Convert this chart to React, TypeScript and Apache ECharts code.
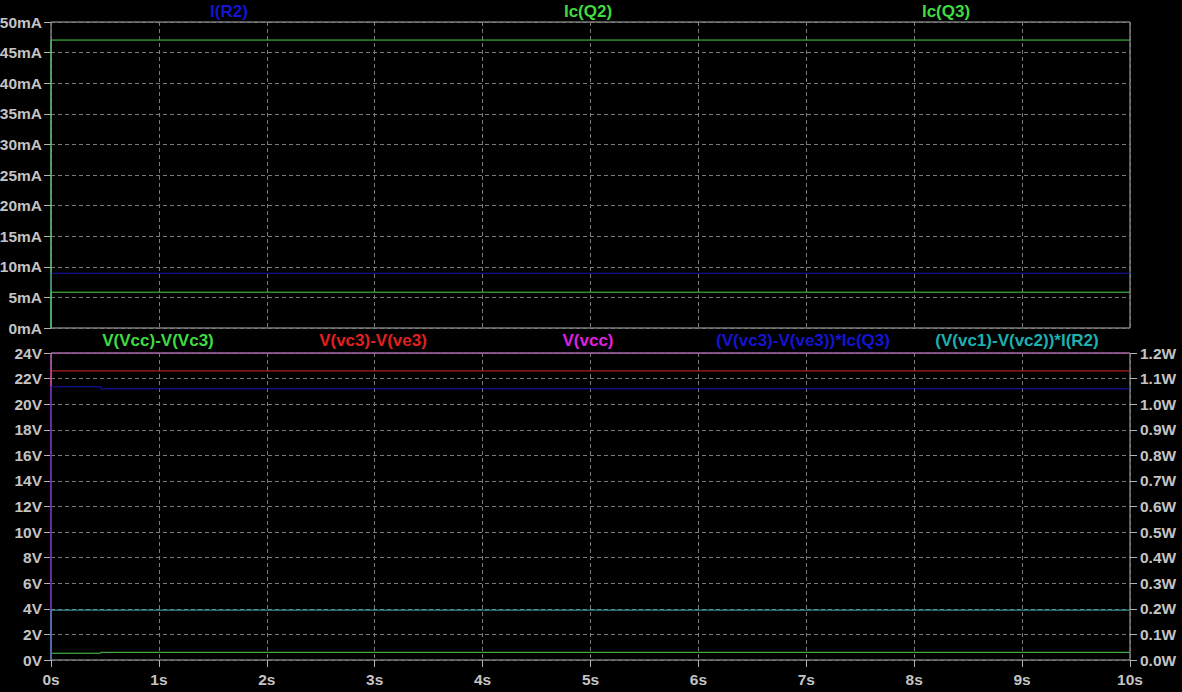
import React, { useEffect, useRef } from "react";
import * as echarts from "echarts";

// Time axis (s)
const timeTicks = [0, 1, 2, 3, 4, 5, 6, 7, 8, 9, 10];

// Top pane (mA)
const iR2: [number, number][] = [[0, 0], [0, 8.95], [10, 8.95]];
const icQ2: [number, number][] = [[0, 0], [0, 5.85], [10, 5.85]];
const icQ3: [number, number][] = [[0, 0], [0, 47.05], [10, 47.05]];

// Bottom pane, voltages (V)
const vVccMinusVc3: [number, number][] = [[0, 0], [0, 0.53], [0.46, 0.53], [0.46, 0.6], [10, 0.6]];
const vVc3MinusVe3: [number, number][] = [[0, 0], [0, 22.6], [10, 22.6]];
const vVcc: [number, number][] = [[0, 0], [0, 24], [10, 24]];

// Bottom pane, power (W)
const pQ3: [number, number][] = [[0, 0], [0, 1.068], [0.46, 1.068], [0.46, 1.06], [10, 1.06]];
const pR2: [number, number][] = [[0, 0], [0, 0.195], [10, 0.195]];

const topNames = ["I(R2)", "Ic(Q2)", "Ic(Q3)"];
const bottomNames = [
  "V(Vcc)-V(Vc3)",
  "V(vc3)-V(ve3)",
  "V(vcc)",
  "(V(vc3)-V(ve3))*Ic(Q3)",
  "(V(vc1)-V(vc2))*I(R2)",
];

const FONT = "Arial, 'Liberation Sans', sans-serif";
const LABEL = "#c4c4c4";
const GRIDC = "#7a7a7a";
const BOX = "#b4b4b4";

const C = {
  blueText: "#1414d2",
  blueLine: "#1818b8",
  green: "#3edc3e",
  greenLine: "#4cd04c",
  red: "#e02020",
  redLine: "#d42828",
  magenta: "#e020e0",
  magentaLine: "#c838c8",
  cyan: "#1eb0b0",
  cyanLine: "#3aacb4",
};

export default function App() {
  const ref = useRef<HTMLDivElement>(null);
  useEffect(() => {
    if (!ref.current) return;
    const chart = echarts.init(ref.current, undefined, { renderer: "svg" });
    const L = 51, R = 52;
    const topG = { left: L, right: R, top: 22, height: 306 };
    const botG = { left: L, right: R, top: 353, height: 307 };
    const split = { show: true, lineStyle: { color: GRIDC, type: [4, 3] as any, width: 1 } };
    const axisLabel = (fmt: (v: number) => string, margin: number) => ({
      color: LABEL,
      fontFamily: FONT,
      fontWeight: "bold" as const,
      fontSize: 15.5,
      margin,
      formatter: fmt,
    });
    const tick = { show: true, length: 7, inside: false, lineStyle: { color: BOX } };
    const line = (name: string, data: [number, number][], color: string, xi: number, yi: number) => ({
      type: "line" as const,
      name,
      data,
      xAxisIndex: xi,
      yAxisIndex: yi,
      showSymbol: false,
      symbol: "none",
      lineStyle: { color, width: 1 },
      itemStyle: { color },
    });
    const textEl = (text: string, x: number, y: number, color: string) => ({
      type: "text" as const,
      x,
      y,
      style: {
        text,
        fill: color,
        font: `bold 17px ${FONT}`,
        textAlign: "center",
        textVerticalAlign: "middle",
      },
    });
    const gridCommon = {
      show: true,
      borderColor: BOX,
      borderWidth: 1,
      backgroundColor: "transparent",
      containLabel: false,
      outerBoundsMode: "none",
    };
    chart.setOption({
      animation: false,
      backgroundColor: "#000000",
      grid: [
        { ...topG, ...gridCommon },
        { ...botG, ...gridCommon },
      ],
      xAxis: [
        {
          type: "value", gridIndex: 0, min: 0, max: 10, interval: 1,
          axisLine: { show: false }, axisTick: { show: false }, axisLabel: { show: false },
          splitLine: split,
        },
        {
          type: "value", gridIndex: 1, min: timeTicks[0], max: timeTicks[timeTicks.length - 1], interval: 1,
          axisLine: { show: false }, axisTick: tick,
          axisLabel: axisLabel((v: number) => `${v}s`, 11),
          splitLine: split,
        },
      ],
      yAxis: [
        {
          type: "value", gridIndex: 0, min: 0, max: 50, interval: 5,
          axisLine: { show: false }, axisTick: tick,
          axisLabel: axisLabel((v: number) => `${v}mA`, 9),
          splitLine: split,
        },
        {
          type: "value", gridIndex: 1, min: 0, max: 24, interval: 2,
          axisLine: { show: false }, axisTick: tick,
          axisLabel: axisLabel((v: number) => `${v}V`, 9),
          splitLine: split,
        },
        {
          type: "value", gridIndex: 1, position: "right", min: 0, max: 1.2, interval: 0.1,
          axisLine: { show: false }, axisTick: tick,
          axisLabel: axisLabel((v: number) => `${v.toFixed(1)}W`, 10),
          splitLine: { show: false },
        },
      ],
      series: [
        line(topNames[0], iR2, C.blueLine, 0, 0),
        line(topNames[1], icQ2, C.greenLine, 0, 0),
        line(topNames[2], icQ3, C.greenLine, 0, 0),
        line(bottomNames[0], vVccMinusVc3, C.greenLine, 1, 1),
        line(bottomNames[1], vVc3MinusVe3, C.redLine, 1, 1),
        line(bottomNames[2], vVcc, C.magentaLine, 1, 1),
        line(bottomNames[3], pQ3, C.blueLine, 1, 2),
        line(bottomNames[4], pR2, C.cyanLine, 1, 2),
      ],
      graphic: [
        textEl(topNames[0], 229, 11, C.blueText),
        textEl(topNames[1], 588, 11, C.green),
        textEl(topNames[2], 946, 11, C.green),
        textEl(bottomNames[0], 158, 340, C.green),
        textEl(bottomNames[1], 373, 340, C.red),
        textEl(bottomNames[2], 588, 340, C.magenta),
        textEl(bottomNames[3], 803, 340, C.blueText),
        textEl(bottomNames[4], 1017, 340, C.cyan),
      ],
    });
    return () => chart.dispose();
  }, []);
  return (
    <div
      ref={ref}
      style={{ position: "fixed", left: 0, top: 0, width: 1182, height: 692, background: "#000" }}
    />
  );
}
